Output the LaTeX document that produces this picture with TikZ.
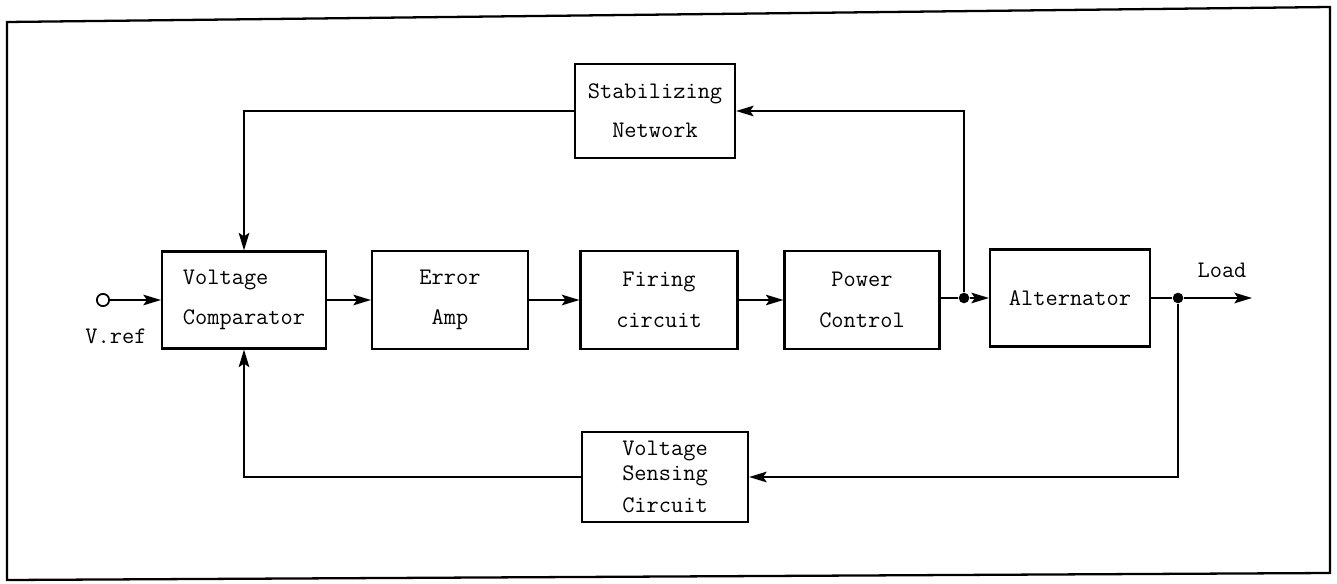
\documentclass[tikz,border=0pt]{standalone}
\usepackage{fontspec}
\usetikzlibrary{arrows.meta}
\tikzset{
  blk/.style={draw, line width=1.2pt, font=\ttfamily\fontsize{13.5}{15}\selectfont, align=center, inner sep=2pt},
  wire/.style={line width=1.2pt},
  arr/.style={wire, -{Stealth[length=10pt,width=6pt,inset=2pt]}},
  lbl/.style={font=\ttfamily\fontsize{13.5}{15}\selectfont},
  jdot/.style={circle, fill, inner sep=0pt, minimum size=6pt}
}
\begin{document}
\begin{tikzpicture}[x=0.02cm,y=-0.02cm]
\useasboundingbox (0,0) rectangle (1337,584);
% frame
\draw[line width=1.3pt] (7,22) -- (1330,7) -- (1330,573) -- (7,580) -- cycle;
% main row
\node[blk, align=left, minimum width=3.28cm, minimum height=1.94cm] (vc) at (244,300) {Voltage\\[8pt]Comparator};
\node[blk, minimum width=3.12cm, minimum height=1.96cm] (ea) at (450,300) {Error\\[8pt]Amp};
\node[blk, minimum width=3.14cm, minimum height=1.96cm] (fc) at (659,300) {Firing\\[8pt]circuit};
\node[blk, minimum width=3.10cm, minimum height=1.96cm] (pc) at (862,300) {Power\\[8pt]Control};
\node[blk, minimum width=3.20cm, minimum height=1.94cm] (alt) at (1070,298) {Alternator};
\node[blk, minimum width=3.20cm, minimum height=1.88cm] (sn) at (655,111) {Stabilizing\\[7pt]Network};
\node[blk, minimum width=3.32cm, minimum height=1.80cm] (vs) at (665,477) {Voltage\\[-1pt]Sensing\\[3pt]Circuit};
% input
\node[circle, draw, line width=1pt, inner sep=0pt, minimum size=7pt] (vin) at (103,300) {};
\node[lbl] (vref) at (116,336) {V.ref};
\draw[arr] (vin) -- (vc.west |- vin);
% forward path
\draw[arr] (vc.east |- 0,300) -- (ea.west |- 0,300);
\draw[arr] (ea.east |- 0,300) -- (fc.west |- 0,300);
\draw[arr] (fc.east |- 0,300) -- (pc.west |- 0,300);
\node[jdot] (j1) at (964,298) {};
\draw[wire] (pc.east |- j1) -- (j1);
\draw[arr] (j1) -- (alt.west |- j1);
% output
\node[jdot] (j2) at (1178,298) {};
\coordinate (load) at (1252,298);
\node[lbl] (loadl) at (1222,270) {Load};
\draw[wire] (alt.east |- j2) -- (j2);
\draw[arr] (j2) -- (load);
% stabilizing feedback
\draw[arr] (j1) |- (sn.east);
\draw[arr] (sn.west) -| (vc.north);
% sensing feedback
\draw[arr] (j2) |- (vs.east);
\draw[arr] (vs.west) -| (vc.south);
\end{tikzpicture}
\end{document}
